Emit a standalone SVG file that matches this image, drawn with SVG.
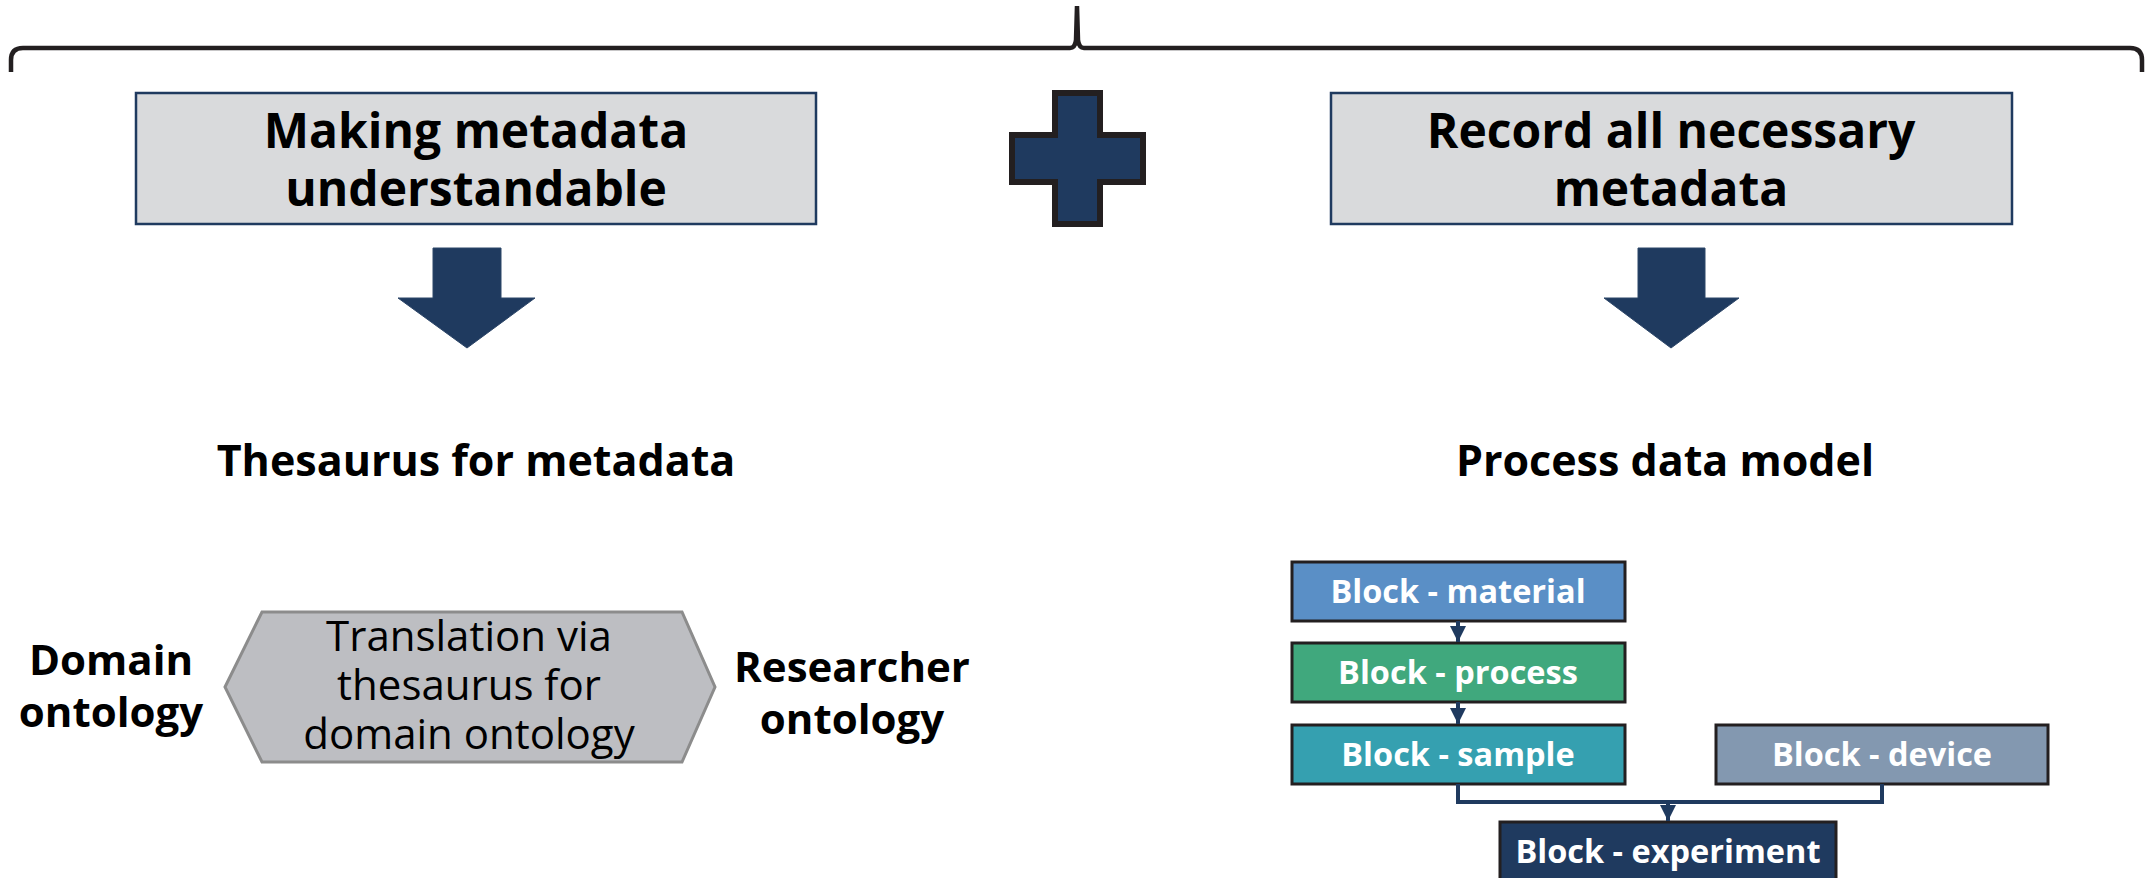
<svg xmlns="http://www.w3.org/2000/svg" width="2151" height="878" viewBox="0 0 2151 878">
  <defs>
    <style>
      .title { font-family: "Open Sans", "Liberation Sans", sans-serif; font-weight: 700; font-size: 48px; fill: #000; text-anchor: middle; }
      .head { font-family: "Open Sans", "Liberation Sans", sans-serif; font-weight: 700; font-size: 43px; fill: #000; text-anchor: middle; }
      .side { font-family: "Open Sans", "Liberation Sans", sans-serif; font-weight: 700; font-size: 42px; fill: #000; text-anchor: middle; }
      .hex { font-family: "Open Sans", "Liberation Sans", sans-serif; font-weight: 400; font-size: 42px; fill: #000; text-anchor: middle; }
      .blk { font-family: "Open Sans", "Liberation Sans", sans-serif; font-weight: 700; font-size: 32.5px; fill: #fff; text-anchor: middle; }
      .tbox { fill: #d9dadc; stroke: #1f3a5f; stroke-width: 2.5; }
      .bigarrow { fill: #1f3a5f; stroke: #2d4668; stroke-width: 1; }
      .block { stroke: #231f20; stroke-width: 3; }
      .conn { fill: none; stroke: #1f3a5f; stroke-width: 4; }
    </style>
    <marker id="tri" viewBox="0 0 10 10" refX="10" refY="5" markerWidth="4" markerHeight="4" markerUnits="strokeWidth" orient="auto">
      <path d="M0,0 L10,5 L0,10 Z" fill="#1f3a5f"/>
    </marker>
  </defs>

  <!-- curly brace spanning both columns -->
  <path id="brace" d="M11,72 L11,60 Q11,48 23,48 L1070,48 Q1075,48 1076,40 L1077,6 L1078,40 Q1079,48 1084,48 L2130,48 Q2142,48 2142,60 L2142,72" fill="none" stroke="#231f20" stroke-width="4.5"/>

  <!-- left column -->
  <g id="box-understandable">
    <rect class="tbox" x="136" y="93" width="680" height="131"/>
    <text class="title" x="476" y="148">Making metadata</text>
    <text class="title" x="476" y="206">understandable</text>
  </g>
  <g id="arrow-left">
    <path class="bigarrow" d="M433,248 L501,248 L501,298 L535,298 L467,348 L398,298 L433,298 Z"/>
  </g>
  <g id="label-thesaurus">
    <text class="head" x="476" y="476">Thesaurus for metadata</text>
  </g>
  <g id="domain-ontology">
    <text class="side" x="111" y="675">Domain</text>
    <text class="side" x="111" y="727">ontology</text>
  </g>
  <g id="translation-hex">
    <polygon points="225,687 262,612 682,612 715,687 682,762 262,762" fill="#bdbec2" stroke="#8c8c8c" stroke-width="3"/>
    <text class="hex" x="469" y="651">Translation via</text>
    <text class="hex" x="469" y="700">thesaurus for</text>
    <text class="hex" x="469" y="749">domain ontology</text>
  </g>
  <g id="researcher-ontology">
    <text class="side" x="852" y="682">Researcher</text>
    <text class="side" x="852" y="734">ontology</text>
  </g>

  <!-- plus sign between the columns -->
  <g id="plus">
    <path d="M1055,93 L1100,93 L1100,135 L1143,135 L1143,182 L1100,182 L1100,224 L1055,224 L1055,182 L1012,182 L1012,135 L1055,135 Z" fill="#1f3a5f" stroke="#231f20" stroke-width="6" stroke-linejoin="miter"/>
  </g>

  <!-- right column -->
  <g id="box-record">
    <rect class="tbox" x="1331" y="93" width="681" height="131"/>
    <text class="title" x="1671" y="148">Record all necessary</text>
    <text class="title" x="1671" y="206">metadata</text>
  </g>
  <g id="arrow-right">
    <path class="bigarrow" d="M1638,248 L1705,248 L1705,298 L1739,298 L1671,348 L1604,298 L1638,298 Z"/>
  </g>
  <g id="label-process-model">
    <text class="head" x="1665" y="476">Process data model</text>
  </g>

  <g id="block-material">
    <rect class="block" x="1292" y="562" width="333" height="59" fill="#5a8fc6"/>
    <text class="blk" x="1458" y="603">Block - material</text>
  </g>
  <g id="block-process">
    <rect class="block" x="1292" y="643" width="333" height="59" fill="#40a87d"/>
    <text class="blk" x="1458" y="684">Block - process</text>
  </g>
  <g id="block-sample">
    <rect class="block" x="1292" y="725" width="333" height="59" fill="#35a0b0"/>
    <text class="blk" x="1458" y="766">Block - sample</text>
  </g>
  <g id="block-device">
    <rect class="block" x="1716" y="725" width="332" height="59" fill="#8398b0"/>
    <text class="blk" x="1882" y="766">Block - device</text>
  </g>
  <g id="block-experiment">
    <rect class="block" x="1500" y="822" width="336" height="62" fill="#1f3a5f"/>
    <text class="blk" x="1668" y="863">Block - experiment</text>
  </g>

  <g id="connectors">
    <line class="conn" x1="1458" y1="621" x2="1458" y2="642" marker-end="url(#tri)"/>
    <line class="conn" x1="1458" y1="702" x2="1458" y2="724" marker-end="url(#tri)"/>
    <path class="conn" d="M1458,784 L1458,802 L1882,802 L1882,784"/>
    <line class="conn" x1="1668" y1="802" x2="1668" y2="821" marker-end="url(#tri)"/>
  </g>
</svg>
